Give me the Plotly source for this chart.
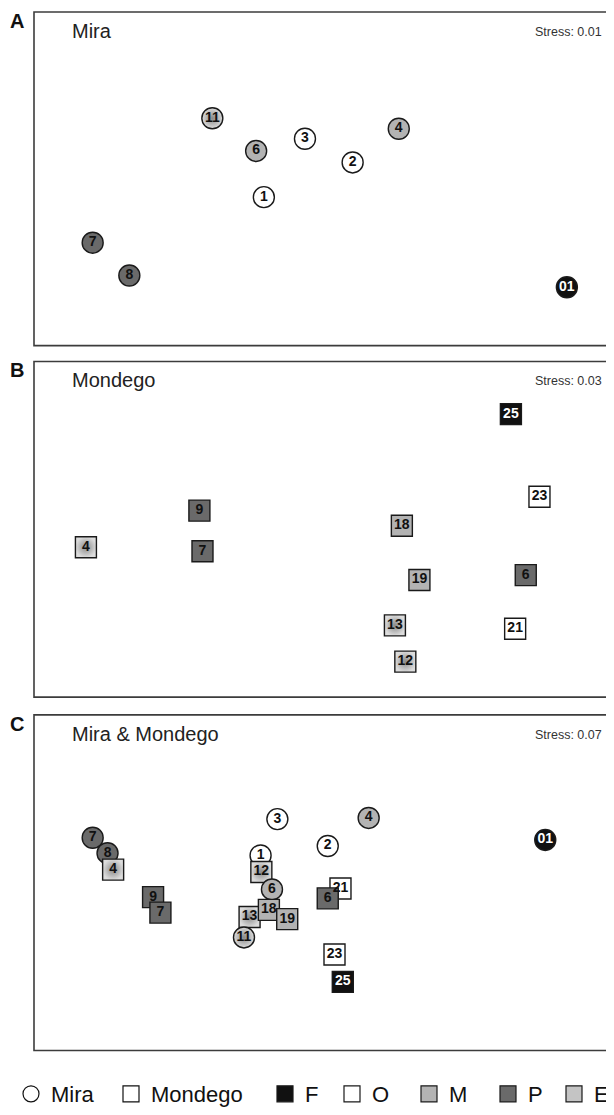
import plotly.graph_objects as go

# ---------------- data (nMDS coordinates) ----------------
CAT_COLORS = {"F": "#111111", "O": "#ffffff", "M": "#b3b3b3", "P": "#6a6a6a", "E": "#dcdcdc"}
CAT_TEXT = {"F": "#ffffff", "O": "#111111", "M": "#111111", "P": "#111111", "E": "#111111"}

# Panel A - Mira (circles)
a_labels = ["11", "6", "3", "2", "4", "1", "7", "8", "01"]
a_cat = ["E", "M", "O", "O", "M", "O", "P", "P", "F"]
a_x = [-0.576, -0.349, -0.096, 0.151, 0.390, -0.309, -1.196, -1.006, 1.261]
a_y = [0.363, 0.167, 0.240, 0.098, 0.300, -0.110, -0.383, -0.580, -0.650]

# Panel B - Mondego (squares)
b_labels = ["25", "23", "9", "18", "4", "7", "19", "6", "13", "21", "12"]
b_cat = ["F", "O", "P", "M", "E", "P", "M", "P", "E", "O", "E"]
b_x = [0.971, 1.119, -0.643, 0.406, -1.231, -0.627, 0.497, 1.048, 0.370, 0.993, 0.424]
b_y = [0.686, 0.194, 0.111, 0.021, -0.107, -0.131, -0.302, -0.273, -0.573, -0.593, -0.789]

# Panel C - Mira & Mondego
c_labels = ["3", "4", "7", "8", "4", "2", "1", "12", "6", "9", "7", "21", "6",
            "13", "18", "19", "11", "23", "25", "01"]
c_site = ["Mira", "Mira", "Mira", "Mira", "Mondego", "Mira", "Mira", "Mondego", "Mira",
          "Mondego", "Mondego", "Mondego", "Mondego", "Mondego", "Mondego", "Mondego",
          "Mira", "Mondego", "Mondego", "Mira"]
c_cat = ["O", "M", "P", "P", "E", "O", "O", "E", "M", "P", "P", "O", "P",
         "E", "M", "M", "E", "O", "F", "F"]
c_x = [-0.239, 0.234, -1.196, -1.119, -1.090, 0.022, -0.326, -0.322, -0.267, -0.883,
       -0.845, 0.088, 0.022, -0.383, -0.283, -0.188, -0.412, 0.057, 0.100, 1.149]
c_y = [0.379, 0.386, 0.268, 0.176, 0.078, 0.219, 0.162, 0.064, -0.040, -0.086,
       -0.178, -0.034, -0.093, -0.204, -0.162, -0.217, -0.326, -0.428, -0.591, 0.255]

panel_letters = ["A", "B", "C"]
panel_titles = ["Mira", "Mondego", "Mira & Mondego"]
stress_values = ["0.01", "0.03", "0.07"]

legend_names = ["Mira", "Mondego", "F", "O", "M", "P", "E"]

# ---------------- layout geometry ----------------
OFF = 8                      # default page margin around the plot div
W, H = 614 - OFF, 1115 - OFF
FONT = "Liberation Sans, Arial, sans-serif"
panel_px = [(12, 349), (365, 704), (722, 1061)]  # top, bottom (page pixels)
x_left_px, x_right_px = 34, 613
XR = [-1.5, 1.5]
YR = [-1.0, 1.0]
legend_sym_px = [31, 131, 285, 352, 429, 508, 574]
legend_y_px = 1105

SYM = {"Mira": "circle", "Mondego": "square"}


def py(p):
    return 1 - (p - OFF) / H


def px(p):
    return (p - OFF) / W


fig = go.Figure()


def add_panel(i, labels, cats, xs, ys, sites):
    xa = "x" if i == 0 else f"x{i + 1}"
    ya = "y" if i == 0 else f"y{i + 1}"
    fig.add_trace(go.Scatter(
        x=xs, y=ys, mode="markers+text", text=labels,
        textposition="middle center",
        textfont=dict(family=FONT, size=14, color=[CAT_TEXT[c] for c in cats], weight="bold"),
        marker=dict(
            symbol=[SYM[s] for s in sites],
            size=21,
            color=[CAT_COLORS[c] for c in cats],
            line=dict(color="#1a1a1a", width=1.4),
            gradient=dict(type=["radial" if c == "E" else "none" for c in cats],
                          color=["#8a8a8a" if c == "E" else CAT_COLORS[c] for c in cats]),
        ),
        xaxis=xa, yaxis=ya, showlegend=False, hoverinfo="skip", cliponaxis=False,
    ))


add_panel(0, a_labels, a_cat, a_x, a_y, ["Mira"] * len(a_labels))
add_panel(1, b_labels, b_cat, b_x, b_y, ["Mondego"] * len(b_labels))
add_panel(2, c_labels, c_cat, c_x, c_y, c_site)

# legend entries, each in its own legend box so they can be placed like the original
leg_sym = ["circle-open", "square-open", "square", "square", "square", "square", "square"]
leg_col = ["#111111", "#111111", CAT_COLORS["F"], CAT_COLORS["O"], CAT_COLORS["M"],
           CAT_COLORS["P"], "#c4c4c4"]
layout = dict(
    width=W, height=H,
    margin=dict(l=0, r=0, t=0, b=0),
    paper_bgcolor="white", plot_bgcolor="white",
    font=dict(family=FONT, color="#111111"),
    showlegend=True,
)
for k, (name, s, c) in enumerate(zip(legend_names, leg_sym, leg_col)):
    lg = "legend" if k == 0 else f"legend{k + 1}"
    fig.add_trace(go.Scatter(
        x=[None], y=[None], mode="markers", name=name, legend=lg,
        marker=dict(symbol=s, size=18, color=c,
                    line=dict(color="#1a1a1a", width=1.2)),
        showlegend=True,
    ))
    layout[lg] = dict(orientation="h", x=px(legend_sym_px[k] - 20), xanchor="left",
                      y=py(legend_y_px), yanchor="middle",
                      font=dict(size=22, family=FONT, color="#111111"),
                      itemclick=False, bgcolor="rgba(0,0,0,0)", borderwidth=0)

shapes = []
annotations = []
for i, (top, bot) in enumerate(panel_px):
    suffix = "" if i == 0 else str(i + 1)
    layout["xaxis" + suffix] = dict(domain=[px(x_left_px), px(x_right_px)], range=XR,
                                    visible=False, anchor="y" + suffix, fixedrange=True)
    layout["yaxis" + suffix] = dict(domain=[py(bot), py(top)], range=YR,
                                    visible=False, anchor="x" + suffix, fixedrange=True)
    shapes.append(dict(type="rect", xref="paper", yref="paper",
                       x0=px(x_left_px), x1=px(x_right_px), y0=py(bot), y1=py(top),
                       line=dict(color="#3c3c3c", width=1.6), layer="below"))
    annotations.append(dict(text=f"<b>{panel_letters[i]}</b>", xref="paper", yref="paper",
                            x=px(17), y=py(top + 9), xanchor="center", yanchor="middle",
                            showarrow=False, font=dict(size=20, family=FONT, color="#111111")))
    annotations.append(dict(text=panel_titles[i], xref="paper", yref="paper",
                            x=px(70), y=py(top + 19), xanchor="left", yanchor="middle",
                            showarrow=False, font=dict(size=20, family=FONT, color="#222222")))
    annotations.append(dict(text=f"Stress: {stress_values[i]}", xref="paper", yref="paper",
                            x=px(604), y=py(top + 20), xanchor="right", yanchor="middle",
                            showarrow=False, font=dict(size=12.5, family=FONT, color="#333333")))

layout["shapes"] = shapes
layout["annotations"] = annotations
fig.update_layout(**layout)

fig.write_html("out.html")
